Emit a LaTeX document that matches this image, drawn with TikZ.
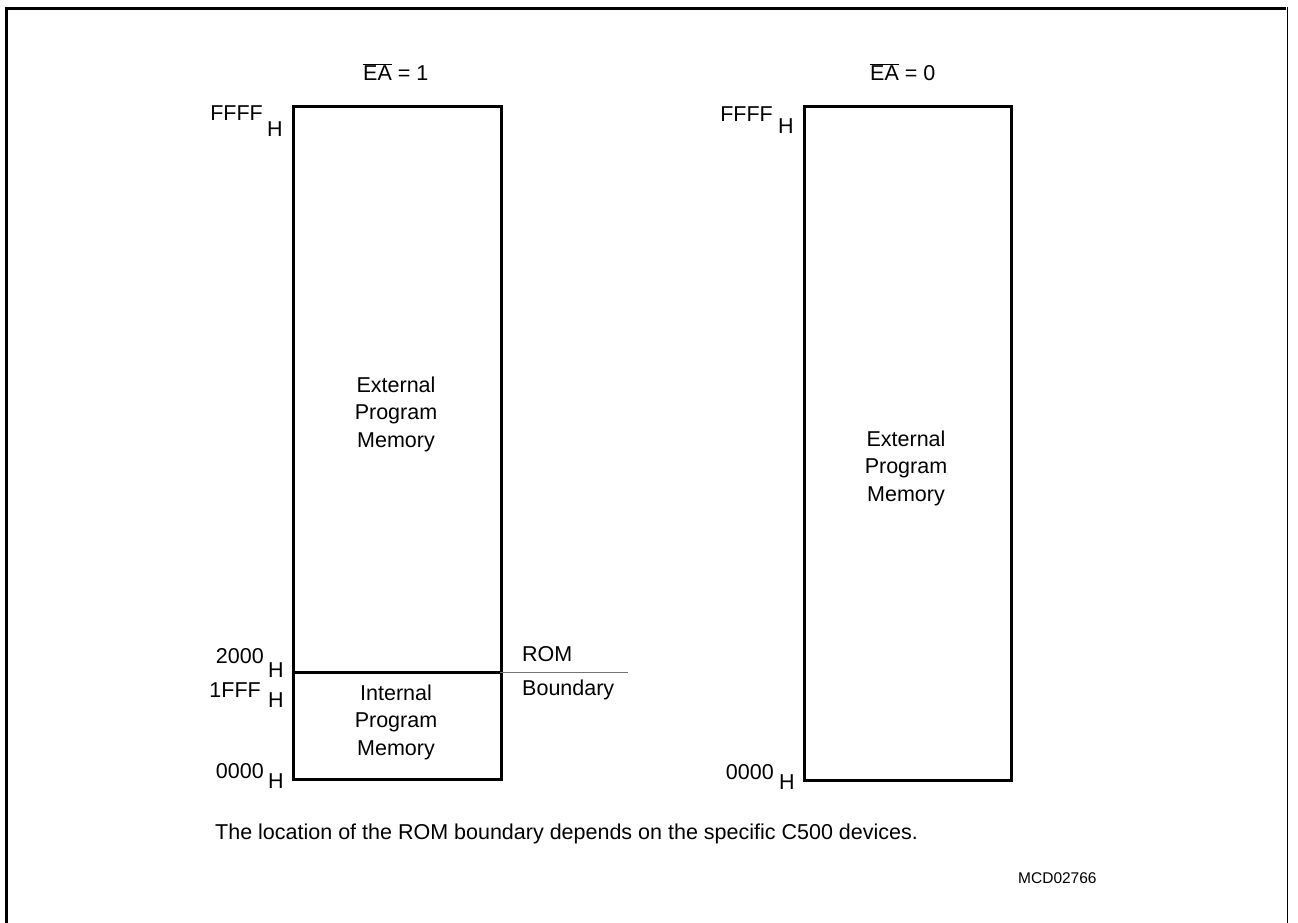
\documentclass[tikz,border=0pt]{standalone}
\usepackage{fontspec}
\setmainfont{Liberation Sans}
\begin{document}
\begin{tikzpicture}[x=1pt,y=-1pt,
  lbl/.style={inner sep=0pt, font=\fontsize{21.5}{27.5}\selectfont},
  captxt/.style={inner sep=0pt, font=\fontsize{21.5}{26}\selectfont},
  idtxt/.style={inner sep=0pt, font=\fontsize{15.5}{19}\selectfont},
  membox/.style={draw, line width=3pt, inner sep=0pt},
  frameline/.style={line width=3.5pt},
  rombound/.style={line width=1pt, black!55}]
\useasboundingbox (0,0) rectangle (1298,922);
% outer frame
\draw[frameline] (6.5,925) -- (6.5,8.5) -- (1286,8.5);
\draw[line width=1.5pt] (1287.5,7) -- (1287.5,925);
% boxes
\node[membox, minimum width=208pt, minimum height=673pt, anchor=north west] (boxA) at (292,105) {};
\node[membox, minimum width=207pt, minimum height=674pt, anchor=north west] (boxB) at (803,105) {};
\coordinate (rb) at (500,672);
\coordinate (re) at (628,672);
\draw[line width=3pt] (boxA.west |- rb) -- (rb);
\draw[rombound] (rb) -- (re);
% titles
\node[lbl, anchor=base west] (eaA) at (363,80) {$\overline{\mbox{EA}}$ = 1};
\node[lbl, anchor=base west] (eaB) at (870,80) {$\overline{\mbox{EA}}$ = 0};
% addresses left
\node[lbl, anchor=base east] (fA) at (263,120) {FFFF};
\node[lbl, anchor=base west] (fAh) at (267,136) {H};
\node[lbl, anchor=base east] (tA) at (264,663) {2000};
\node[lbl, anchor=base west] (tAh) at (268,677) {H};
\node[lbl, anchor=base east] (oA) at (261,697) {1FFF};
\node[lbl, anchor=base west] (oAh) at (268,707) {H};
\node[lbl, anchor=base east] (zA) at (264,778) {0000};
\node[lbl, anchor=base west] (zAh) at (268,788) {H};
% addresses right
\node[lbl, anchor=base east] (fB) at (773,121) {FFFF};
\node[lbl, anchor=base west] (fBh) at (778,133) {H};
\node[lbl, anchor=base east] (zB) at (774,779) {0000};
\node[lbl, anchor=base west] (zBh) at (779,789) {H};
% contents
\node[lbl, align=center] (extA) at (396,414) {External\\Program\\Memory};
\node[lbl, align=center] (intA) at (396,722) {Internal\\Program\\Memory};
\node[lbl, align=center] (extB) at (906,468) {External\\Program\\Memory};
\node[lbl, align=left, anchor=west] (romb) at (522,673) {ROM\\[6pt]Boundary};
% caption
\node[captxt, anchor=base west] (cap) at (215,839) {The location of the ROM boundary depends on the specific C500 devices.};
\node[idtxt, anchor=base west] (mcd) at (1018,883) {MCD02766};
\end{tikzpicture}
\end{document}
